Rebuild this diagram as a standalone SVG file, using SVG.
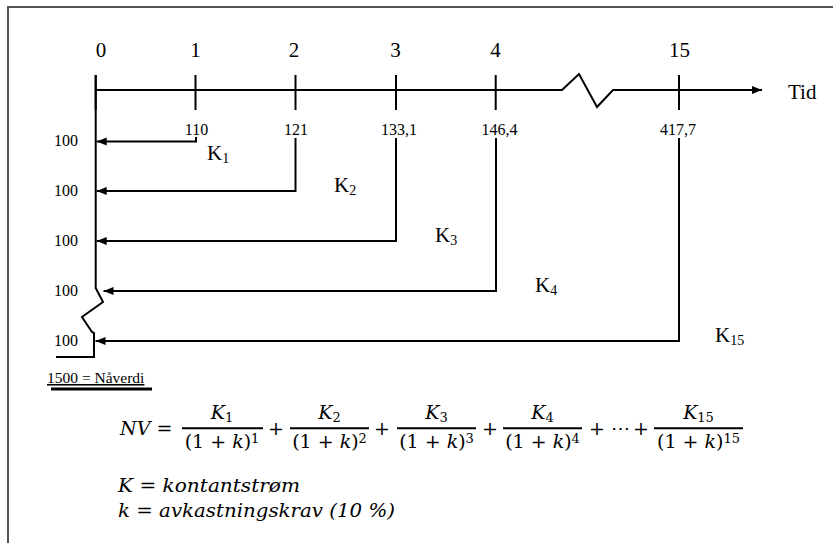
<svg xmlns="http://www.w3.org/2000/svg" width="833" height="543" viewBox="0 0 833 543">
<style>
  .ln{fill:none;stroke:#000;stroke-width:2;stroke-linejoin:miter}
  .t{font-family:"Liberation Serif","Times New Roman",serif;fill:#000}
  .top{font-size:21px;text-anchor:middle}
  .val{font-size:16px;text-anchor:middle}
  .pv{font-size:16px}
  .k{font-size:21px}
  .sub{font-size:14px}
  .m{font-family:"DejaVu Serif",serif;font-size:19px;fill:#000}
  .i{font-style:italic}
  .sm{font-size:13px}
  .ctr{text-anchor:middle}
</style>
<defs>
  <marker id="ah" markerUnits="userSpaceOnUse" markerWidth="12" markerHeight="10" refX="10" refY="4" orient="auto">
    <path d="M0,0 L10,4 L0,8 Z" fill="#000"/>
  </marker>
</defs>
<rect width="833" height="543" fill="#fff"/>
<path d="M8,543 V7 H833" fill="none" stroke="#555" stroke-width="2"/>

<g id="timeline">
  <path class="ln" d="M95.7,90 H562 L579,74 L597,107 L613,90 H762" marker-end="url(#ah)"/>
  <path class="ln" d="M95.7,75 V110 M195.5,75 V110 M295.5,75 V110 M396,75 V110 M495.7,75 V110 M679,75 V110"/>
  <text class="t top" x="101" y="57">0</text>
  <text class="t top" x="195.5" y="57">1</text>
  <text class="t top" x="294" y="57">2</text>
  <text class="t top" x="395.5" y="57">3</text>
  <text class="t top" x="495.5" y="57">4</text>
  <text class="t top" x="679.5" y="57">15</text>
  <text class="t" x="788" y="99" font-size="21">Tid</text>
</g>

<g id="values">
  <text class="t val" x="196.5" y="135">110</text>
  <text class="t val" x="296" y="135">121</text>
  <text class="t val" x="399" y="135">133,1</text>
  <text class="t val" x="499.5" y="135">146,4</text>
  <text class="t val" x="678" y="135">417,7</text>
</g>

<g id="pv-axis">
  <path class="ln" d="M95.7,75 V288 L103,302 L82,317 L92,332 L94,333 V357 H56"/>
  <text class="t pv" x="54" y="146">100</text>
  <text class="t pv" x="54" y="196">100</text>
  <text class="t pv" x="54" y="246">100</text>
  <text class="t pv" x="54" y="296">100</text>
  <text class="t pv" x="54" y="346">100</text>
</g>

<g id="connectors">
  <path class="ln" d="M196,137 V141.5 H96.7" marker-end="url(#ah)"/>
  <path class="ln" d="M295.5,138 V191 H96.7" marker-end="url(#ah)"/>
  <path class="ln" d="M396,138 V241 H96.7" marker-end="url(#ah)"/>
  <path class="ln" d="M496,138 V291 H103.5" marker-end="url(#ah)"/>
  <path class="ln" d="M679,138 V341 H95.5" marker-end="url(#ah)"/>
</g>

<g id="k-labels">
  <text class="t k" x="207" y="160">K<tspan class="sub" dy="3">1</tspan></text>
  <text class="t k" x="334" y="192">K<tspan class="sub" dy="3">2</tspan></text>
  <text class="t k" x="435" y="242">K<tspan class="sub" dy="3">3</tspan></text>
  <text class="t k" x="535" y="292">K<tspan class="sub" dy="3">4</tspan></text>
  <text class="t k" x="715" y="342">K<tspan class="sub" dy="3">15</tspan></text>
</g>

<g id="sum">
  <text class="t" x="47" y="383" font-size="15.5" text-decoration="underline">1500 = Nåverdi</text>
  <rect x="51" y="387.5" width="101" height="3" fill="#000"/>
</g>

<g id="formula">
  <text class="m" x="120" y="435"><tspan class="i">NV</tspan> =</text>
  <g id="frac1">
    <text class="m ctr" x="222" y="419"><tspan class="i">K</tspan><tspan class="sm" dy="3">1</tspan></text>
    <line x1="182" y1="428.3" x2="263" y2="428.3" stroke="#000" stroke-width="2"/>
    <text class="m ctr" x="222" y="448">(1 + <tspan class="i">k</tspan>)<tspan class="sm" dy="-5">1</tspan></text>
  </g>
  <text class="m ctr" x="276" y="435">+</text>
  <g id="frac2">
    <text class="m ctr" x="329.5" y="419"><tspan class="i">K</tspan><tspan class="sm" dy="3">2</tspan></text>
    <line x1="290" y1="428.3" x2="369" y2="428.3" stroke="#000" stroke-width="2"/>
    <text class="m ctr" x="329.5" y="448">(1 + <tspan class="i">k</tspan>)<tspan class="sm" dy="-5">2</tspan></text>
  </g>
  <text class="m ctr" x="382" y="435">+</text>
  <g id="frac3">
    <text class="m ctr" x="436.5" y="419"><tspan class="i">K</tspan><tspan class="sm" dy="3">3</tspan></text>
    <line x1="397" y1="428.3" x2="476" y2="428.3" stroke="#000" stroke-width="2"/>
    <text class="m ctr" x="436.5" y="448">(1 + <tspan class="i">k</tspan>)<tspan class="sm" dy="-5">3</tspan></text>
  </g>
  <text class="m ctr" x="490" y="435">+</text>
  <g id="frac4">
    <text class="m ctr" x="542.5" y="419"><tspan class="i">K</tspan><tspan class="sm" dy="3">4</tspan></text>
    <line x1="503" y1="428.3" x2="582" y2="428.3" stroke="#000" stroke-width="2"/>
    <text class="m ctr" x="542.5" y="448">(1 + <tspan class="i">k</tspan>)<tspan class="sm" dy="-5">4</tspan></text>
  </g>
  <text class="m ctr" x="597" y="435">+</text>
  <text class="m ctr" x="620" y="435">⋯</text>
  <text class="m ctr" x="641" y="435">+</text>
  <g id="frac15">
    <text class="m ctr" x="698.5" y="419"><tspan class="i">K</tspan><tspan class="sm" dy="3">15</tspan></text>
    <line x1="654" y1="428.3" x2="743" y2="428.3" stroke="#000" stroke-width="2"/>
    <text class="m ctr" x="698.5" y="448">(1 + <tspan class="i">k</tspan>)<tspan class="sm" dy="-5">15</tspan></text>
  </g>
</g>

<g id="legend">
  <text class="m" x="118" y="492" textLength="182" lengthAdjust="spacingAndGlyphs"><tspan class="i">K</tspan> = <tspan class="i">kontantstrøm</tspan></text>
  <text class="m" x="118" y="517" textLength="277" lengthAdjust="spacingAndGlyphs"><tspan class="i">k</tspan> = <tspan class="i">avkastningskrav (10 %)</tspan></text>
</g>
</svg>
